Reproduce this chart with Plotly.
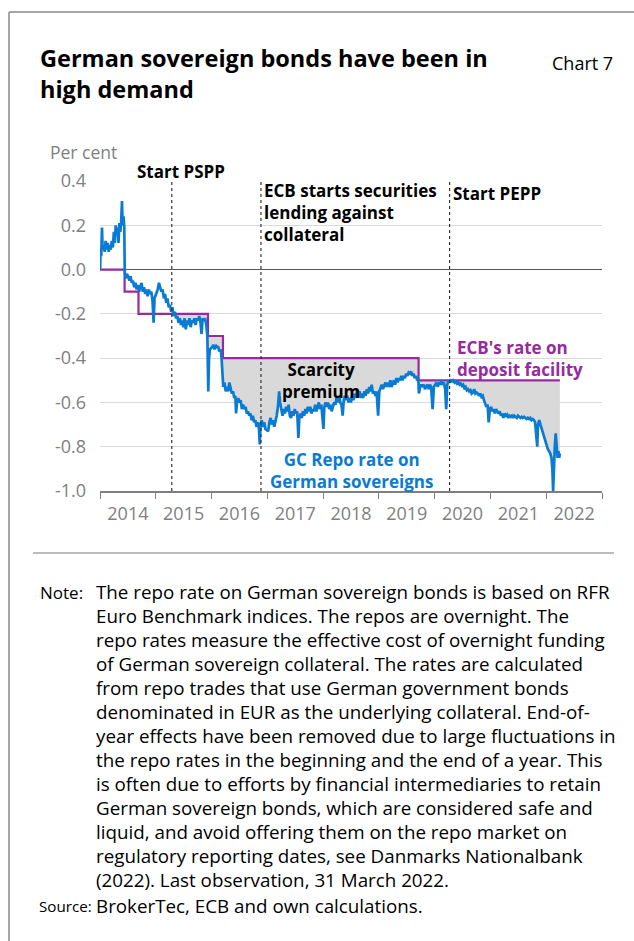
import plotly.graph_objects as go

# ---------------- data ----------------
repo_dates = [
    "2014-01-02", "2014-01-04", "2014-01-09", "2014-01-14", "2014-01-18", "2014-01-25", "2014-02-01",
    "2014-02-07", "2014-02-13", "2014-02-20", "2014-02-27", "2014-03-05", "2014-03-12", "2014-03-19",
    "2014-03-26", "2014-04-02", "2014-04-08", "2014-04-14", "2014-04-20", "2014-04-26", "2014-05-02",
    "2014-05-08", "2014-05-14", "2014-05-20", "2014-05-25", "2014-05-29", "2014-06-04", "2014-06-09",
    "2014-06-12", "2014-06-18", "2014-06-26", "2014-07-04", "2014-07-12", "2014-07-20", "2014-07-28",
    "2014-08-05", "2014-08-13", "2014-08-21", "2014-08-29", "2014-09-06", "2014-09-14", "2014-09-22",
    "2014-09-30", "2014-10-08", "2014-10-16", "2014-10-24", "2014-11-01", "2014-11-09", "2014-11-17",
    "2014-11-25", "2014-12-03", "2014-12-11", "2014-12-18", "2014-12-24",
    "2015-01-06", "2015-01-14", "2015-01-22", "2015-01-30", "2015-02-07", "2015-02-15", "2015-02-23",
    "2015-03-03", "2015-03-11", "2015-03-19", "2015-03-27", "2015-04-04", "2015-04-12", "2015-04-16",
    "2015-04-20", "2015-04-28", "2015-05-06", "2015-05-14", "2015-05-22", "2015-05-30", "2015-06-07",
    "2015-06-15", "2015-06-23", "2015-07-01", "2015-07-09", "2015-07-17", "2015-07-25", "2015-08-02",
    "2015-08-10", "2015-08-18", "2015-08-26", "2015-09-03", "2015-09-11", "2015-09-19", "2015-09-27",
    "2015-10-05", "2015-10-13", "2015-10-21", "2015-10-28", "2015-11-04", "2015-11-12", "2015-11-20",
    "2015-11-28", "2015-12-05", "2015-12-11", "2015-12-16", "2015-12-22",
    "2016-01-05", "2016-01-13", "2016-01-21", "2016-01-29", "2016-02-06", "2016-02-14", "2016-02-22",
    "2016-03-01", "2016-03-07", "2016-03-12", "2016-03-18", "2016-03-26", "2016-04-03", "2016-04-11",
    "2016-04-19", "2016-04-27", "2016-05-05", "2016-05-13", "2016-05-21", "2016-05-29", "2016-06-05",
    "2016-06-10", "2016-06-16", "2016-06-24", "2016-07-02", "2016-07-10", "2016-07-18", "2016-07-26",
    "2016-08-03", "2016-08-11", "2016-08-19", "2016-08-27", "2016-09-04", "2016-09-12", "2016-09-20",
    "2016-09-28", "2016-10-06", "2016-10-14", "2016-10-22", "2016-10-30", "2016-11-07", "2016-11-12",
    "2016-11-17", "2016-11-25", "2016-12-03", "2016-12-11", "2016-12-19",
    "2017-01-06", "2017-01-14", "2017-01-22", "2017-01-30", "2017-02-07", "2017-02-15", "2017-02-23",
    "2017-03-03", "2017-03-11", "2017-03-19", "2017-03-25", "2017-04-02", "2017-04-10", "2017-04-18",
    "2017-04-26", "2017-05-04", "2017-05-12", "2017-05-20", "2017-05-28", "2017-06-05", "2017-06-13",
    "2017-06-21", "2017-06-29", "2017-07-07", "2017-07-15", "2017-07-23", "2017-07-29", "2017-08-06",
    "2017-08-14", "2017-08-22", "2017-08-30", "2017-09-07", "2017-09-15", "2017-09-23", "2017-10-01",
    "2017-10-09", "2017-10-17", "2017-10-25", "2017-11-02", "2017-11-10", "2017-11-18", "2017-11-26",
    "2017-12-04", "2017-12-12", "2017-12-20",
    "2018-01-03", "2018-01-09", "2018-01-17", "2018-01-25", "2018-02-02", "2018-02-10", "2018-02-18",
    "2018-02-26", "2018-03-06", "2018-03-14", "2018-03-22", "2018-03-30", "2018-04-07", "2018-04-15",
    "2018-04-23", "2018-05-01", "2018-05-09", "2018-05-15", "2018-05-23", "2018-05-31", "2018-06-08",
    "2018-06-16", "2018-06-24", "2018-07-02", "2018-07-10", "2018-07-18", "2018-07-26", "2018-08-03",
    "2018-08-11", "2018-08-19", "2018-08-27", "2018-09-04", "2018-09-12", "2018-09-20", "2018-09-28",
    "2018-10-06", "2018-10-14", "2018-10-22", "2018-10-30", "2018-11-07", "2018-11-15", "2018-11-23",
    "2018-12-01", "2018-12-09", "2018-12-17", "2018-12-27",
    "2019-01-04", "2019-01-12", "2019-01-20", "2019-01-28", "2019-02-05", "2019-02-13", "2019-02-21",
    "2019-03-01", "2019-03-09", "2019-03-17", "2019-03-25", "2019-04-02", "2019-04-10", "2019-04-18",
    "2019-04-26", "2019-05-04", "2019-05-12", "2019-05-20", "2019-05-28", "2019-06-05", "2019-06-13",
    "2019-06-21", "2019-06-29", "2019-07-07", "2019-07-15", "2019-07-23", "2019-07-31", "2019-08-08",
    "2019-08-16", "2019-08-24", "2019-09-01", "2019-09-09", "2019-09-16", "2019-09-20", "2019-09-28",
    "2019-10-06", "2019-10-14", "2019-10-22", "2019-10-30", "2019-11-07", "2019-11-15", "2019-11-23",
    "2019-12-01", "2019-12-09", "2019-12-19", "2019-12-27",
    "2020-01-06", "2020-01-14", "2020-01-22", "2020-01-30", "2020-02-07", "2020-02-15", "2020-02-23",
    "2020-03-02", "2020-03-10", "2020-03-17", "2020-03-24", "2020-04-01", "2020-04-09", "2020-04-17",
    "2020-04-25", "2020-05-03", "2020-05-11", "2020-05-19", "2020-05-27", "2020-06-04", "2020-06-12",
    "2020-06-20", "2020-06-28", "2020-07-06", "2020-07-14", "2020-07-22", "2020-07-30", "2020-08-07",
    "2020-08-15", "2020-08-23", "2020-08-31", "2020-09-08", "2020-09-16", "2020-09-24", "2020-10-02",
    "2020-10-10", "2020-10-18", "2020-10-26", "2020-11-03", "2020-11-11", "2020-11-19", "2020-11-27",
    "2020-12-05", "2020-12-13", "2020-12-20", "2020-12-28",
    "2021-01-05", "2021-01-13", "2021-01-21", "2021-01-29", "2021-02-06", "2021-02-14", "2021-02-22",
    "2021-03-02", "2021-03-10", "2021-03-18", "2021-03-26", "2021-04-03", "2021-04-11", "2021-04-19",
    "2021-04-27", "2021-05-05", "2021-05-13", "2021-05-21", "2021-05-29", "2021-06-06", "2021-06-14",
    "2021-06-22", "2021-06-30", "2021-07-08", "2021-07-16", "2021-07-24", "2021-08-01", "2021-08-09",
    "2021-08-17", "2021-08-25", "2021-09-02", "2021-09-10", "2021-09-18", "2021-09-26", "2021-10-04",
    "2021-10-12", "2021-10-20", "2021-10-28", "2021-11-03", "2021-11-08", "2021-11-16", "2021-11-24",
    "2021-12-02", "2021-12-10", "2021-12-18", "2021-12-26",
    "2022-01-03", "2022-01-11", "2022-01-19", "2022-01-27", "2022-02-04", "2022-02-10", "2022-02-15",
    "2022-02-20", "2022-02-26", "2022-03-04", "2022-03-10", "2022-03-16", "2022-03-22", "2022-03-27",
    "2022-03-31",
]
repo_values = [
    0.00, 0.08, 0.06, 0.19, 0.09, 0.11, 0.08,
    0.13, 0.09, 0.12, 0.08, 0.11, 0.09, 0.13,
    0.10, 0.17, 0.12, 0.20, 0.16, 0.19, 0.12,
    0.21, 0.17, 0.22, 0.31, 0.20, 0.24, 0.19,
    -0.01, -0.04, -0.02, -0.03, -0.05, -0.03, -0.06,
    -0.05, -0.08, -0.06, -0.09, -0.07, -0.10, -0.08,
    -0.06, -0.10, -0.08, -0.11, -0.09, -0.12, -0.09,
    -0.11, -0.10, -0.14, -0.24, -0.13,
    -0.11, -0.09, -0.06, -0.08, -0.10, -0.09, -0.13,
    -0.11, -0.15, -0.13, -0.17, -0.16, -0.19, -0.18,
    -0.17, -0.21, -0.19, -0.22, -0.21, -0.24, -0.22,
    -0.25, -0.23, -0.26, -0.22, -0.27, -0.23, -0.25,
    -0.22, -0.26, -0.23, -0.24, -0.22, -0.25, -0.22,
    -0.23, -0.21, -0.24, -0.29, -0.22, -0.23, -0.22,
    -0.25, -0.30, -0.55, -0.40, -0.36,
    -0.35, -0.34, -0.36, -0.34, -0.35, -0.35, -0.37,
    -0.36, -0.40, -0.50, -0.53, -0.51, -0.55, -0.53,
    -0.55, -0.51, -0.53, -0.56, -0.55, -0.58, -0.57,
    -0.65, -0.60, -0.58, -0.60, -0.59, -0.63, -0.61,
    -0.63, -0.62, -0.65, -0.64, -0.66, -0.65, -0.68,
    -0.66, -0.69, -0.68, -0.71, -0.69, -0.72, -0.79,
    -0.70, -0.68, -0.71, -0.69, -0.72,
    -0.73, -0.69, -0.67, -0.70, -0.68, -0.71, -0.69,
    -0.66, -0.62, -0.55, -0.60, -0.64, -0.66, -0.63,
    -0.65, -0.62, -0.64, -0.61, -0.66, -0.67, -0.64,
    -0.66, -0.63, -0.65, -0.64, -0.76, -0.67, -0.65,
    -0.67, -0.64, -0.66, -0.63, -0.65, -0.62, -0.64,
    -0.62, -0.65, -0.63, -0.64, -0.61, -0.64, -0.62,
    -0.60, -0.63, -0.61,
    -0.72, -0.62, -0.60, -0.62, -0.60, -0.63, -0.61,
    -0.64, -0.62, -0.60, -0.61, -0.58, -0.60, -0.57,
    -0.60, -0.61, -0.66, -0.60, -0.57, -0.59, -0.57,
    -0.60, -0.58, -0.60, -0.57, -0.59, -0.56, -0.58,
    -0.55, -0.57, -0.55, -0.58, -0.56, -0.58, -0.55,
    -0.57, -0.54, -0.56, -0.53, -0.55, -0.52, -0.56,
    -0.55, -0.57, -0.55, -0.66,
    -0.55, -0.53, -0.52, -0.54, -0.52, -0.51, -0.53,
    -0.51, -0.53, -0.50, -0.53, -0.51, -0.50, -0.52,
    -0.49, -0.51, -0.49, -0.50, -0.48, -0.50, -0.48,
    -0.49, -0.47, -0.48, -0.465, -0.47, -0.46, -0.48,
    -0.47, -0.49, -0.48, -0.50, -0.49, -0.56, -0.53,
    -0.52, -0.53, -0.52, -0.54, -0.53, -0.52, -0.54,
    -0.52, -0.53, -0.63, -0.53,
    -0.52, -0.51, -0.53, -0.51, -0.52, -0.50, -0.52,
    -0.51, -0.54, -0.63, -0.52, -0.50, -0.51, -0.50,
    -0.505, -0.50, -0.51, -0.505, -0.515, -0.51, -0.52,
    -0.515, -0.525, -0.52, -0.535, -0.53, -0.545, -0.54,
    -0.55, -0.545, -0.56, -0.555, -0.54, -0.56, -0.555,
    -0.56, -0.57, -0.56, -0.575, -0.57, -0.59, -0.605,
    -0.62, -0.61, -0.69, -0.63,
    -0.62, -0.64, -0.63, -0.65, -0.63, -0.64, -0.65,
    -0.64, -0.66, -0.65, -0.67, -0.65, -0.66, -0.655,
    -0.67, -0.66, -0.665, -0.66, -0.67, -0.66, -0.665,
    -0.67, -0.66, -0.665, -0.67, -0.665, -0.67, -0.665,
    -0.67, -0.675, -0.67, -0.675, -0.67, -0.68, -0.675,
    -0.68, -0.69, -0.76, -0.80, -0.70, -0.68, -0.70,
    -0.72, -0.74, -0.76, -0.78,
    -0.79, -0.81, -0.82, -0.83, -0.85, -0.90, -1.00,
    -0.85, -0.80, -0.74, -0.80, -0.85, -0.82, -0.85,
    -0.83,
]

deposit_dates = ["2014-01-01", "2014-06-11", "2014-09-10", "2015-12-09", "2016-03-16", "2019-09-18", "2022-03-31"]
deposit_values = [0.0, -0.1, -0.2, -0.3, -0.4, -0.5, -0.5]

event_dates = ["2015-04-16", "2016-11-20", "2020-04-08"]
event_labels = ["Start PSPP", "ECB starts securities<br>lending against<br>collateral", "Start PEPP"]

y_tickvals = [0.4, 0.2, 0.0, -0.2, -0.4, -0.6, -0.8, -1.0]
y_ticktext = ["0.4", "0.2", "0.0", "-0.2", "-0.4", "-0.6", "-0.8", "-1.0"]

title_text = "German sovereign bonds have been in<br>high demand"
note_lines = [
    "The repo rate on German sovereign bonds is based on RFR",
    "Euro Benchmark indices. The repos are overnight. The",
    "repo rates measure the effective cost of overnight funding",
    "of German sovereign collateral. The rates are calculated",
    "from repo trades that use German government bonds",
    "denominated in EUR as the underlying collateral. End-of-",
    "year effects have been removed due to large fluctuations in",
    "the repo rates in the beginning and the end of a year. This",
    "is often due to efforts by financial intermediaries to retain",
    "German sovereign bonds, which are considered safe and",
    "liquid, and avoid offering them on the repo market on",
    "regulatory reporting dates, see Danmarks Nationalbank",
    "(2022). Last observation, 31 March 2022.",
]
source_text = "BrokerTec, ECB and own calculations."

# ---------------- styling ----------------
FONT = "Open Sans"
BLUE = "#0a7bd2"
PURPLE = "#962a9e"
GREY_TXT = "#808080"
FILL = "#d9d9d9"

W, H = 634, 941
PL, PR, PT, PB = 100, 602, 181, 491  # plot area in pixels


def px(x):
    return (x - PL) / (PR - PL)


def py(y):
    return (PB - y) / (PB - PT)


fig = go.Figure()

# fill region: from PSPP start onwards, between deposit rate and repo rate
start = event_dates[0]
dep_fx = [start] + [d for d in deposit_dates if d > start]
dep_fy = [v for d, v in zip(deposit_dates, deposit_values) if d <= start][-1:] + \
         [v for d, v in zip(deposit_dates, deposit_values) if d > start]
rep_fx = [d for d in repo_dates if d >= start]
rep_fy = [v for d, v in zip(repo_dates, repo_values) if d >= start]

fig.add_trace(go.Scatter(x=dep_fx, y=dep_fy, mode="lines", line=dict(width=0, shape="hv"),
                         hoverinfo="skip", showlegend=False))
fig.add_trace(go.Scatter(x=rep_fx, y=rep_fy, mode="lines", line=dict(width=0),
                         fill="tonexty", fillcolor=FILL, hoverinfo="skip", showlegend=False))

# deposit rate
fig.add_trace(go.Scatter(x=deposit_dates, y=deposit_values, mode="lines",
                         line=dict(color=PURPLE, width=2.2, shape="hv"), showlegend=False))
# repo rate
fig.add_trace(go.Scatter(x=repo_dates, y=repo_values, mode="lines",
                         line=dict(color=BLUE, width=2.7), showlegend=False))

shapes = []
for d in event_dates:
    shapes.append(dict(type="line", xref="x", yref="y", x0=d, x1=d, y0=-1.0, y1=0.4,
                       line=dict(color="#333333", width=1.2, dash="dot"), layer="above"))
# frame
shapes.append(dict(type="line", xref="paper", yref="paper", x0=px(9), x1=px(9), y0=py(12), y1=py(945),
                   line=dict(color="#a6a6a6", width=2)))
shapes.append(dict(type="line", xref="paper", yref="paper", x0=px(9), x1=px(640), y0=py(12), y1=py(12),
                   line=dict(color="#a6a6a6", width=2)))
# separator above note
shapes.append(dict(type="line", xref="paper", yref="paper", x0=px(33), x1=px(614), y0=py(553), y1=py(553),
                   line=dict(color="#a6a6a6", width=1.5)))

ann = []


def text(x, y, s, size=16, color="black", bold=False, xanchor="left", yanchor="middle", align="left"):
    ann.append(dict(xref="paper", yref="paper", x=px(x), y=py(y), text=f"<b>{s}</b>" if bold else s,
                    showarrow=False, xanchor=xanchor, yanchor=yanchor, align=align,
                    font=dict(family=FONT, size=size, color=color)))


# title
text(38, 73, title_text, size=23.5, bold=True)
text(615, 63, "Chart 7", size=18, xanchor="right")
text(48, 152, "Per cent", size=17.5, color=GREY_TXT)

# event labels
text(135, 171, event_labels[0], size=17, bold=True)
text(262, 212, event_labels[1], size=17, bold=True)
text(451, 193, event_labels[2], size=17, bold=True)

# series labels
text(321, 380, "Scarcity<br>premium", size=17, bold=True, xanchor="center", align="center")
text(352, 470, "GC Repo rate on<br>German sovereigns", size=17, bold=True, color=BLUE,
     xanchor="center", align="center")
text(455, 358, "ECB's rate on<br>deposit facility", size=17, bold=True, color=PURPLE)

# notes
y0, step = 592, 24
text(38, y0, "Note:", size=17)
for i, line in enumerate(note_lines):
    text(94, y0 + i * step, line, size=18.8)
text(37, 906, "Source:", size=15.2)
text(94, 906, source_text, size=18.8)

fig.update_layout(
    width=W, height=H,
    margin=dict(l=PL, r=W - PR, t=PT, b=H - PB, pad=0),
    paper_bgcolor="white", plot_bgcolor="white",
    font=dict(family=FONT, size=16, color=GREY_TXT),
    showlegend=False, hovermode=False,
    shapes=shapes, annotations=ann,
)
fig.update_xaxes(
    type="date", range=["2014-01-01", "2023-01-01"], dtick="M12", tick0="2014-01-01",
    tickformat="%Y", ticklabelmode="period", ticks="outside", ticklen=6, tickcolor="#7f7f7f",
    showline=True, linecolor="#7f7f7f", linewidth=1.5, showgrid=False, zeroline=False,
    tickfont=dict(family=FONT, size=18, color=GREY_TXT),
)
fig.update_yaxes(
    range=[-1.0, 0.4], tickvals=y_tickvals, ticktext=y_ticktext, showgrid=True,
    gridcolor="#d9d9d9", gridwidth=1.2, zeroline=True, zerolinecolor="#555555", zerolinewidth=1.2,
    ticks="", ticklabelstandoff=13, tickfont=dict(family=FONT, size=18, color=GREY_TXT),
)

fig.write_html("out.html", config={"displayModeBar": False},
               post_script="document.body.style.margin='0px';")
